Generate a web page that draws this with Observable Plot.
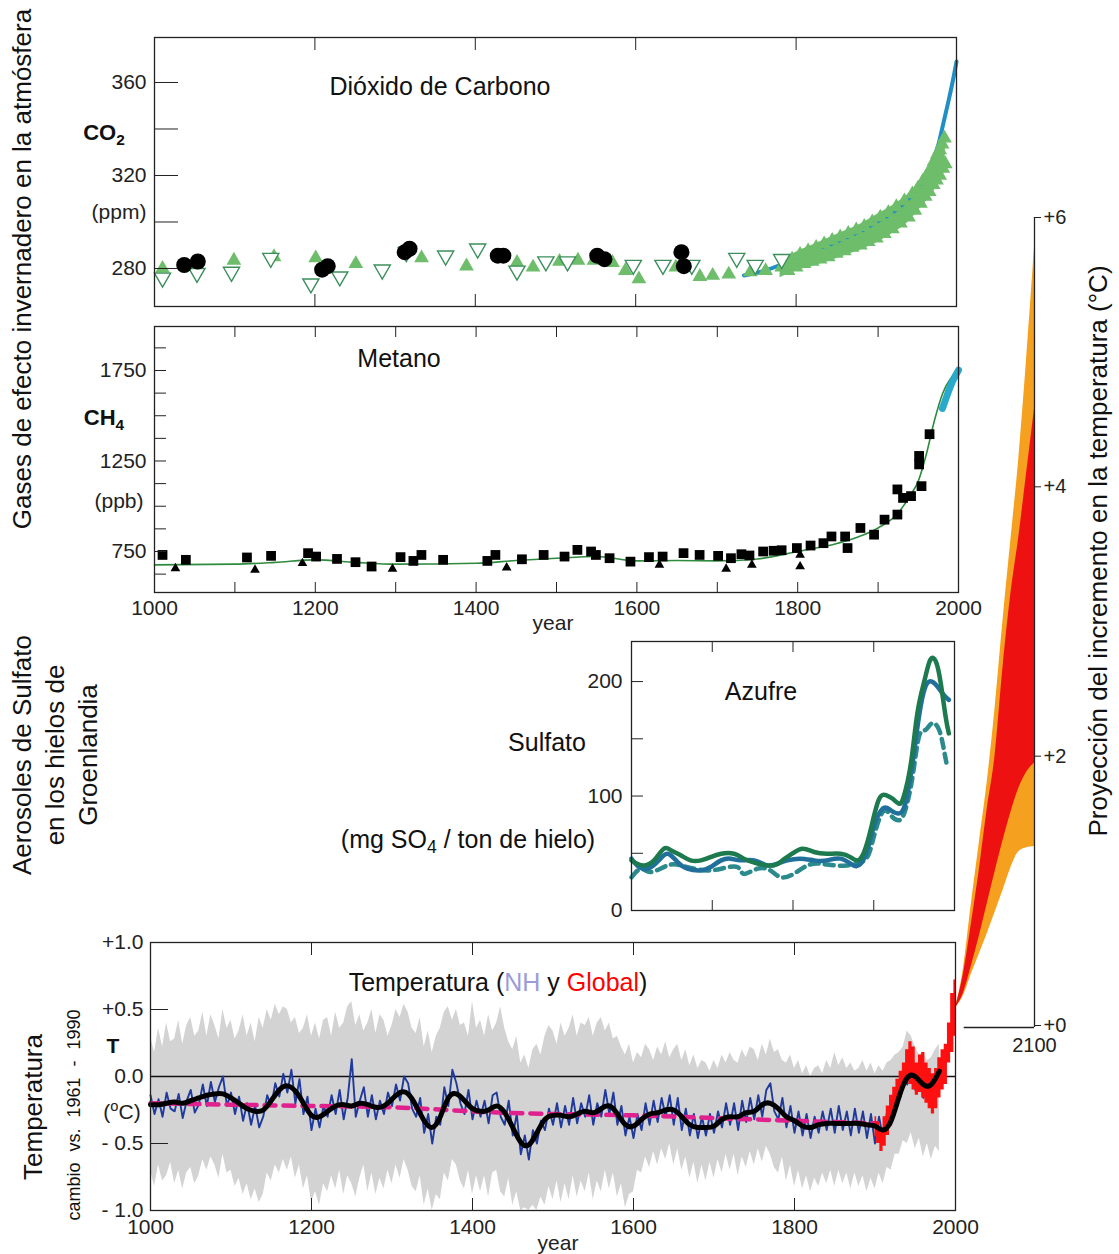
<!DOCTYPE html>
<html><head><meta charset="utf-8">
<script src="https://cdn.jsdelivr.net/npm/d3@7"></script>
<script src="https://cdn.jsdelivr.net/npm/@observablehq/plot@0.6"></script>
<style>
html,body{margin:0;padding:0;background:#fff;overflow:hidden}
#c{position:relative;width:1119px;height:1254px;font-family:"Liberation Sans",Arial,Helvetica,sans-serif;color:#111}
#c svg{position:absolute;left:0;top:0;background:transparent;overflow:visible}
.t{position:absolute;white-space:nowrap;transform:translate(-50%,-50%);font-size:25px;line-height:1.1}
.r{transform:translate(-50%,-50%) rotate(-90deg)}
sub,sup{font-size:0.7em;line-height:0;position:relative;vertical-align:baseline}
sub{top:0.3em} sup{top:-0.55em}
</style></head><body><div id="c"></div>
<script>
// ---------- CO2 (ppm) ----------
const co2BlueYears=[1735,1760,1780,1800,1820,1840,1860,1880,1900,1920,1940,1955,1965,1972,1978,1982,1986,1990,1995,2000];
const co2BlueVals =[277,279,281.5,285,288,290,293,296,300,304,310,316,322,328,334,340,346,352,360,369];
const co2GreenYears=[1010,1050,1099,1149,1201,1251,1333,1389,1452,1472,1505,1528,1548,1571,1587,1604,1650,1680,1696,1716,1743,1762,1782];
const co2GreenVals=[280,281,283.5,285,284.5,282,284.5,281,282.5,280.5,283,283.5,283.5,282.5,279,275.5,280.5,276.5,277,277.5,278.5,279,280.5];
const co2BandYears=[1780,1800,1820,1840,1860,1880,1900,1920,1940,1955,1965,1975,1980,1986];
const co2BandHi=[283,287,290,293,296,299,303,307,312,318,323,330,334,338];
const co2BandLo=[276,279,281,283,285.5,288,291,295,300,306,310,315,318,322];
const co2BandTopYears=[1785,1795,1805,1815,1825,1835,1845,1855,1865,1875,1885,1895,1905,1915,1925,1935,1945,1952,1958,1963,1968,1972,1976,1979,1982,1985];
const co2BandTopVals =[282,284,286,287.5,289,290.5,292,293.5,295,296.5,298,300,302,304,306.5,309,312,314.5,317.5,320,323,326,329,331,333.5,336];
const co2BandBotYears=[1790,1800,1810,1820,1830,1840,1850,1860,1870,1880,1890,1900,1910,1920,1930,1940,1948,1955,1961,1966,1971,1975,1979,1983,1986];
const co2BandBotVals =[279,280.5,282,283,284,285,286.5,287.5,289,290,291.5,293,295,297,299.5,302,305,308,311,313,316,318,320,323,325];
const co2OpenYears=[1010,1053,1096,1145,1195,1231,1284,1314,1363,1403,1452,1488,1515,1597,1634,1670,1726,1749,1782];
const co2OpenVals =[276,278,278.5,284.5,273.5,276.5,279.5,287,285.5,288.5,279,283,283,281.5,281.5,281.5,284.5,281.5,284];
const co2BlackYears=[1037,1054,1209,1216,1312,1318,1428,1435,1552,1561,1657,1660];
const co2BlackVals =[281.5,283,279.5,281,287,288.5,285.5,285.5,285.5,284,287,281];
const co2Ticks=[280,300,320,340,360], co2Labels=[280,320,360];

// ---------- CH4 (ppb) ----------
const ch4SqYears=[1010,1039,1115,1145,1191,1201,1227,1250,1270,1306,1322,1332,1359,1414,1424,1457,1484,1510,1526,1543,1549,1566,1592,1615,1632,1658,1678,1701,1717,1730,1740,1757,1770,1780,1799,1816,1832,1842,1859,1862,1878,1895,1908,1924,1924,1931,1941,1951,1951,1954,1964];
const ch4SqVals =[731,704,717,726,741,722,709,691,667,719,698,731,704,698,731,707,731,722,759,750,731,713,694,719,722,741,731,726,713,735,728,750,754,757,769,783,796,833,833,769,880,843,926,954,1093,1046,1056,1231,1278,1111,1398];
const ch4TriYears=[1026,1125,1184,1270,1296,1438,1628,1711,1743,1803,1803];
const ch4TriVals =[657,648,685,661,654,661,676,654,676,731,667];
const ch4LineYears=[1000,1100,1150,1200,1250,1300,1400,1450,1500,1550,1600,1650,1700,1750,1800,1850,1875,1900,1925,1940,1950,1960,1970,1980,1990,2000];
const ch4LineVals =[676,680,690,704,690,680,685,700,713,722,698,700,698,709,750,796,830,880,963,1060,1139,1287,1472,1620,1704,1745];
const ch4CyanYears=[1980,1984,1988,1992,1996,2000];
const ch4CyanVals =[1540,1590,1640,1685,1720,1752];

// ---------- Sulfate (mg SO4 / ton) ----------
const sGreenYears=[1600,1607,1616,1628,1640,1649,1661,1673,1686,1698,1711,1727,1739,1756,1776,1787,1799,1812,1826,1842,1859,1871,1880,1888,1896,1906,1915,1923,1931,1937,1946,1954,1963,1970,1977,1983,1989,1993];
const sGreenVals =[43.8,40.9,39.4,43.8,54,52.6,48.2,43.8,43.8,46.7,49.6,49.6,45.3,40.9,39.4,43.8,49.6,54,51.1,49.6,49.6,46.7,43.8,51.1,70,96.4,100.7,97.8,93.4,99.3,128.5,172.3,201.5,219,217.5,198.5,169.3,154.7];
const sBlueYears=[1600,1607,1620,1634,1645,1657,1669,1686,1698,1711,1723,1735,1752,1768,1781,1793,1809,1826,1842,1859,1875,1884,1892,1900,1911,1921,1931,1939,1948,1956,1964,1972,1979,1987,1993];
const sBlueVals =[45.3,39.4,36.5,43.8,49.6,42.3,36.5,35,38,43.8,45.3,43.8,43.8,39.4,40.9,43.8,45.3,43.8,43.8,45.3,39.4,40.9,52.6,73,89,87.6,84.7,93.4,128.5,169.3,195.6,200,195.6,188,184];
const sDashYears=[1600,1612,1624,1645,1661,1678,1694,1711,1731,1739,1756,1772,1785,1801,1818,1834,1851,1867,1880,1892,1900,1911,1921,1931,1939,1948,1956,1964,1972,1981,1987,1991];
const sDashVals =[29,36.5,33.6,39.4,39.4,36.5,35,36.5,38,32,36.5,35,29,32,39.4,40.9,39.4,39.4,40.9,46.7,64.2,86,83.2,78.8,87.6,116.8,151.8,157.7,163.5,157.7,140,125.5];

// ---------- Temperature (°C vs 1961-1990) ----------
const tYears=d3.range(1000,1981,5);
const tNH=[
-0.14,-0.28,-0.17,-0.30,-0.12,-0.24,-0.26,-0.13,-0.31,-0.18,-0.10,-0.27,-0.21,-0.06,-0.22,-0.04,-0.19,-0.08,0.0,-0.22,
-0.12,-0.28,-0.15,-0.33,-0.20,-0.36,-0.22,-0.38,-0.30,-0.14,-0.22,-0.05,-0.15,0.02,-0.12,0.05,-0.20,-0.02,-0.28,-0.15,
-0.40,-0.24,-0.38,-0.22,-0.30,-0.14,-0.28,-0.10,-0.32,-0.16,0.13,-0.30,-0.18,-0.08,-0.30,-0.14,-0.32,-0.18,-0.28,-0.12,
-0.22,-0.06,-0.18,0.0,-0.05,-0.24,-0.30,-0.16,-0.42,-0.28,-0.50,-0.30,-0.36,-0.08,-0.22,0.05,-0.05,-0.20,-0.28,-0.10,
-0.32,-0.18,-0.30,-0.18,-0.35,-0.14,-0.12,-0.30,-0.36,-0.18,-0.44,-0.28,-0.58,-0.44,-0.62,-0.40,-0.50,-0.33,-0.40,-0.24,
-0.36,-0.20,-0.38,-0.22,-0.36,-0.16,-0.35,-0.20,-0.30,-0.14,-0.36,-0.20,-0.30,-0.10,-0.28,-0.12,-0.36,-0.22,-0.44,-0.30,
-0.46,-0.28,-0.40,-0.20,-0.36,-0.18,-0.34,-0.16,-0.30,-0.14,-0.36,-0.16,-0.40,-0.24,-0.44,-0.28,-0.46,-0.30,-0.44,-0.28,
-0.42,-0.26,-0.38,-0.20,-0.36,-0.20,-0.40,-0.18,-0.34,-0.16,-0.32,-0.14,-0.30,-0.10,-0.05,-0.26,-0.32,-0.16,-0.38,-0.22,
-0.42,-0.26,-0.44,-0.28,-0.46,-0.30,-0.42,-0.26,-0.40,-0.24,-0.42,-0.22,-0.40,-0.26,-0.44,-0.24,-0.42,-0.26,-0.46,-0.28,
-0.50,-0.30,-0.46,-0.26,-0.36,-0.16,-0.18,-0.02,-0.06,0.10,-0.10,0.06,-0.16,0.0,-0.20,-0.02,0.05];
const tHi=[
0.30,0.18,0.36,0.22,0.40,0.26,0.28,0.42,0.24,0.38,0.44,0.30,0.34,0.48,0.30,0.46,0.38,0.28,0.50,0.36,
0.42,0.28,0.34,0.46,0.30,0.40,0.26,0.44,0.36,0.50,0.42,0.54,0.46,0.52,0.50,0.40,0.44,0.32,0.36,0.46,
0.30,0.40,0.28,0.42,0.44,0.30,0.48,0.36,0.40,0.52,0.56,0.38,0.46,0.34,0.40,0.50,0.32,0.46,0.42,0.30,
0.38,0.50,0.44,0.54,0.48,0.36,0.32,0.44,0.22,0.34,0.18,0.30,0.36,0.48,0.52,0.42,0.50,0.38,0.40,0.30,
0.56,0.36,0.42,0.30,0.46,0.34,0.40,0.52,0.36,0.26,0.20,0.30,0.10,0.16,0.06,0.20,0.24,0.16,0.30,0.38,
0.34,0.24,0.40,0.30,0.36,0.46,0.30,0.40,0.38,0.44,0.30,0.40,0.44,0.34,0.40,0.28,0.30,0.22,0.16,0.24,
0.10,0.18,0.14,0.24,0.20,0.12,0.22,0.16,0.26,0.14,0.20,0.24,0.12,0.20,0.08,0.16,0.06,0.12,0.10,0.04,
0.12,0.06,0.16,0.10,0.18,0.12,0.10,0.20,0.14,0.22,0.20,0.12,0.24,0.16,0.28,0.18,0.20,0.12,0.10,0.16,
0.06,0.12,0.02,0.08,0.00,0.06,0.08,0.02,0.12,0.06,0.18,0.08,0.14,0.06,0.10,0.04,0.06,0.12,0.04,0.10,
0.02,0.08,0.04,0.10,0.12,0.16,0.18,0.22,0.34,0.30,0.22,0.16,0.18,0.12,0.14,0.20,0.24];
const tLo=[
-0.70,-0.82,-0.66,-0.78,-0.74,-0.64,-0.80,-0.70,-0.84,-0.72,-0.68,-0.80,-0.74,-0.62,-0.70,-0.60,-0.66,-0.76,-0.58,-0.72,
-0.70,-0.82,-0.76,-0.88,-0.80,-0.92,-0.84,-0.94,-0.88,-0.72,-0.78,-0.66,-0.72,-0.62,-0.70,-0.60,-0.76,-0.66,-0.84,-0.74,
-0.94,-0.86,-0.96,-0.80,-0.86,-0.74,-0.84,-0.70,-0.88,-0.74,-0.80,-0.90,-0.76,-0.66,-0.86,-0.72,-0.88,-0.76,-0.84,-0.70,
-0.80,-0.66,-0.76,-0.62,-0.70,-0.82,-0.86,-0.74,-0.96,-0.84,-1.0,-0.88,-0.92,-0.72,-0.78,-0.62,-0.66,-0.78,-0.84,-0.70,
-0.88,-0.74,-0.86,-0.74,-0.90,-0.72,-0.70,-0.86,-0.90,-0.76,-0.96,-0.86,-1.0,-0.98,-1.0,-0.96,-1.0,-0.90,-0.96,-0.82,
-0.92,-0.78,-0.94,-0.80,-0.92,-0.74,-0.90,-0.78,-0.86,-0.72,-0.92,-0.78,-0.86,-0.70,-0.84,-0.72,-0.90,-0.80,-0.98,-0.88,
-0.86,-0.70,-0.72,-0.60,-0.68,-0.56,-0.66,-0.54,-0.62,-0.50,-0.66,-0.54,-0.70,-0.60,-0.76,-0.64,-0.80,-0.66,-0.78,-0.64,
-0.76,-0.62,-0.72,-0.58,-0.70,-0.58,-0.74,-0.60,-0.68,-0.56,-0.66,-0.54,-0.64,-0.52,-0.58,-0.68,-0.72,-0.60,-0.78,-0.66,
-0.82,-0.70,-0.84,-0.74,-0.86,-0.76,-0.82,-0.72,-0.80,-0.70,-0.82,-0.70,-0.80,-0.72,-0.84,-0.72,-0.82,-0.74,-0.86,-0.76,
-0.84,-0.72,-0.80,-0.68,-0.70,-0.58,-0.58,-0.48,-0.50,-0.42,-0.54,-0.46,-0.60,-0.50,-0.62,-0.52,-0.56];
const tSmoothYears=d3.range(1000,1981,10);
const tSmooth=[
-0.21,-0.21,-0.20,-0.19,-0.20,-0.18,-0.16,-0.14,-0.13,-0.13,
-0.16,-0.20,-0.24,-0.26,-0.25,-0.18,-0.10,-0.07,-0.11,-0.20,
-0.29,-0.30,-0.26,-0.22,-0.21,-0.22,-0.20,-0.21,-0.23,-0.22,
-0.17,-0.12,-0.13,-0.22,-0.33,-0.38,-0.30,-0.16,-0.13,-0.18,
-0.24,-0.26,-0.25,-0.22,-0.27,-0.38,-0.49,-0.51,-0.42,-0.32,
-0.29,-0.29,-0.30,-0.28,-0.26,-0.27,-0.24,-0.22,-0.28,-0.36,
-0.37,-0.32,-0.28,-0.27,-0.25,-0.25,-0.30,-0.36,-0.38,-0.38,
-0.37,-0.32,-0.30,-0.30,-0.27,-0.26,-0.21,-0.20,-0.24,-0.30,
-0.33,-0.37,-0.38,-0.36,-0.35,-0.35,-0.35,-0.35,-0.35,-0.36,
-0.37,-0.40,-0.33,-0.15,-0.01,0.0,-0.06,-0.06,0.04];
const tTrendYears=[1000,1100,1200,1300,1400,1500,1600,1700,1800,1903];
const tTrendVals =[-0.20,-0.21,-0.22,-0.23,-0.26,-0.28,-0.29,-0.31,-0.33,-0.35];
const tGlobYears=[1900,1904,1908,1912,1916,1920,1924,1928,1932,1936,1940,1944,1948,1952,1956,1960,1964,1968,1972,1976,1980,1984,1988,1992,1996,2000];
const tGlobHi=[-0.30,-0.34,-0.40,-0.30,-0.22,-0.14,-0.08,-0.02,0.04,0.10,0.20,0.26,0.22,0.10,0.16,0.18,0.10,0.06,0.02,0.06,0.14,0.20,0.24,0.40,0.62,0.72];
const tGlobLo=[-0.45,-0.50,-0.56,-0.52,-0.44,-0.36,-0.30,-0.22,-0.16,-0.08,0.0,-0.06,-0.10,-0.14,-0.12,-0.16,-0.20,-0.24,-0.28,-0.24,-0.16,-0.10,-0.06,0.10,0.18,0.30];
const tTicks=[-1,-0.5,0,0.5,1], tTickLabels=["- 1.0","- 0.5","0.0","+0.5","+1.0"];

// ---------- Projection to 2100 (°C) ----------
const pYears=[2000,2010,2020,2030,2040,2050,2060,2070,2080,2090,2100];
const pOrangeHi=[0.13,0.42,0.90,1.35,1.80,2.35,3.00,3.60,4.20,4.95,5.78];
const pRedHi   =[0.13,0.38,0.75,1.15,1.60,2.00,2.65,3.20,3.62,4.10,4.58];
const pRedLo   =[0.13,0.24,0.44,0.66,0.90,1.14,1.37,1.58,1.76,1.88,1.95];
const pOrangeLo=[0.13,0.22,0.38,0.53,0.68,0.84,1.00,1.17,1.29,1.32,1.33];

// ---------- drawing ----------
const C=document.getElementById("c");
const W=1119,H=1254;
function add({l,r,t,b,...rest}){
  const svg=Plot.plot({width:W,height:H,marginLeft:l,marginRight:W-r,marginTop:t,marginBottom:H-b,
    style:{fontFamily:'"Liberation Sans", Arial, Helvetica, sans-serif',fontSize:"21px",color:"#222",background:"transparent"},
    ...rest});
  C.appendChild(svg);
}
const pts=(xs,ys)=>xs.map((x,i)=>({x,y:ys[i]}));
const noLab=()=>"";
const str=d=>String(d);
const triDown={draw(ctx,size){const s=Math.sqrt(4*size/Math.sqrt(3)),h=s*Math.sqrt(3)/2;ctx.moveTo(-s/2,-h/3);ctx.lineTo(s/2,-h/3);ctx.lineTo(0,2*h/3);ctx.closePath();}};
const frame=()=>Plot.frame({stroke:"#222",strokeWidth:1.3});
const GREEN="#6dbd6b";

// CO2 panel
add({l:154,r:956,t:37,b:306,
  x:{domain:[1000,2000],axis:null}, y:{domain:[263.65,379.35],axis:null},
  marks:[
    Plot.areaY(co2BandYears.map((x,i)=>({x,lo:co2BandLo[i],hi:co2BandHi[i]})),{x:"x",y1:"lo",y2:"hi",fill:GREEN,curve:"monotone-x"}),
    Plot.dot(pts(co2BandBotYears,co2BandBotVals),{x:"x",y:"y",symbol:"triangle",r:5.5,fill:GREEN}),
    Plot.line(pts(co2BlueYears,co2BlueVals),{x:"x",y:"y",stroke:"#1f8fc4",strokeWidth:4,curve:"monotone-x"}),
    Plot.dot(pts(co2BandTopYears,co2BandTopVals),{x:"x",y:"y",symbol:"triangle",r:5.5,fill:GREEN}),
    Plot.dot(pts(co2GreenYears,co2GreenVals),{x:"x",y:"y",symbol:"triangle",r:5.5,fill:GREEN}),
    Plot.dot(pts(co2OpenYears,co2OpenVals),{x:"x",y:"y",symbol:triDown,r:6,fill:"white",stroke:"#3c8f5c",strokeWidth:1.4}),
    Plot.dot(pts(co2BlackYears,co2BlackVals),{x:"x",y:"y",r:8,fill:"black"}),
    frame(),
    Plot.axisY(co2Ticks,{tickSize:-24,tickFormat:noLab,label:null}),
    Plot.axisY(co2Labels,{tickSize:0,tickPadding:8,tickFormat:str,label:null}),
    Plot.axisX([1200,1400,1600,1800],{anchor:"top",tickSize:-12,tickFormat:noLab,label:null}),
    Plot.axisX([1200,1400,1600,1800],{anchor:"bottom",tickSize:-12,tickFormat:noLab,label:null})
  ]});

// CH4 panel
add({l:154,r:958,t:326,b:592,
  x:{domain:[1000,2000],axis:null}, y:{domain:[523.5,1993],axis:null},
  marks:[
    Plot.line(pts(ch4LineYears,ch4LineVals),{x:"x",y:"y",stroke:"#2e8b3e",strokeWidth:1.6,curve:"monotone-x"}),
    Plot.dot(pts(ch4SqYears,ch4SqVals),{x:"x",y:"y",symbol:"square",r:5.5,fill:"black"}),
    Plot.dot(pts(ch4TriYears,ch4TriVals),{x:"x",y:"y",symbol:"triangle",r:3.6,fill:"black"}),
    Plot.line(pts(ch4CyanYears,ch4CyanVals),{x:"x",y:"y",stroke:"#29a9cb",strokeWidth:7,strokeLinecap:"round"}),
    frame(),
    Plot.axisY(d3.range(625,1876,125),{tickSize:-12,tickFormat:noLab,label:null}),
    Plot.axisY([750,1250,1750],{tickSize:0,tickPadding:8,tickFormat:str,label:null}),
    Plot.axisX(d3.range(1100,1901,100),{anchor:"top",tickSize:-10,tickFormat:noLab,label:null}),
    Plot.axisX(d3.range(1100,1901,100),{anchor:"bottom",tickSize:-10,tickFormat:noLab,label:null}),
    Plot.axisX(d3.range(1000,2001,200),{anchor:"bottom",tickSize:0,tickPadding:8,tickFormat:str,label:null})
  ]});

// Projection panel
add({l:955,r:1034,t:217,b:1025,
  x:{domain:[2000,2100],axis:null}, y:{domain:[0,6],axis:null},
  marks:[
    Plot.areaY(pYears.map((x,i)=>({x,lo:pOrangeLo[i],hi:pOrangeHi[i]})),{x:"x",y1:"lo",y2:"hi",fill:"#f5a01e",curve:"monotone-x"}),
    Plot.areaY(pYears.map((x,i)=>({x,lo:pRedLo[i],hi:pRedHi[i]})),{x:"x",y1:"lo",y2:"hi",fill:"#ee1111",curve:"monotone-x"}),
    Plot.ruleX([2100],{y1:-0.015,y2:6,stroke:"#222",strokeWidth:1.3}),
    Plot.ruleY([-0.015],{x1:2011,x2:2100,stroke:"#222",strokeWidth:1.3}),
    Plot.axisY([0,2,4,6],{anchor:"right",tickSize:6,tickPadding:3,tickFormat:d=>"+"+d,fontSize:20,label:null}),
    Plot.axisX([2100],{anchor:"bottom",tickSize:0,tickPadding:12,tickFormat:str,fontSize:20,label:null})
  ]});

// Sulfate panel
add({l:631,r:954,t:641,b:910,
  x:{domain:[1600,2000],axis:null}, y:{domain:[0,235],axis:null},
  marks:[
    Plot.line(pts(sDashYears,sDashVals),{x:"x",y:"y",stroke:"#2b8a8c",strokeWidth:4.5,strokeDasharray:"9,6",curve:"natural"}),
    Plot.line(pts(sBlueYears,sBlueVals),{x:"x",y:"y",stroke:"#21709c",strokeWidth:4.5,curve:"natural"}),
    Plot.line(pts(sGreenYears,sGreenVals),{x:"x",y:"y",stroke:"#1d7a4e",strokeWidth:4.5,curve:"natural"}),
    frame(),
    Plot.axisY([50,100,150,200],{tickSize:-12,tickFormat:noLab,label:null}),
    Plot.axisY([0,100,200],{tickSize:0,tickPadding:9,tickFormat:str,label:null}),
    Plot.axisX([1700,1800,1900],{anchor:"top",tickSize:-10,tickFormat:noLab,label:null}),
    Plot.axisX([1700,1800,1900],{anchor:"bottom",tickSize:-10,tickFormat:noLab,label:null})
  ]});

// Temperature panel
add({l:150,r:955,t:942,b:1210,
  x:{domain:[1000,2000],axis:null}, y:{domain:[-1,1],axis:null},
  marks:[
    Plot.areaY(tYears.map((x,i)=>({x,lo:tLo[i],hi:tHi[i]})),{x:"x",y1:"lo",y2:"hi",fill:"#d3d3d3"}),
    Plot.ruleY([0],{stroke:"#111",strokeWidth:1.3}),
    Plot.line(pts(tYears,tNH),{x:"x",y:"y",stroke:"#1f3a9c",strokeWidth:1.9}),
    Plot.line(pts(tTrendYears,tTrendVals),{x:"x",y:"y",stroke:"#e0208c",strokeWidth:4.5,strokeDasharray:"11,8",curve:"natural"}),
    Plot.areaY(tGlobYears.map((x,i)=>({x,lo:tGlobLo[i],hi:tGlobHi[i]})),{x:"x",y1:"lo",y2:"hi",fill:"#ff1010",curve:"step"}),
    Plot.line(pts(tSmoothYears,tSmooth),{x:"x",y:"y",stroke:"black",strokeWidth:5,curve:"natural"}),
    frame(),
    Plot.axisY([-0.5,0.5],{tickSize:-18,tickFormat:noLab,label:null}),
    Plot.axisY(tTicks,{tickSize:0,tickPadding:7,tickFormat:d=>tTickLabels[tTicks.indexOf(d)],label:null}),
    Plot.axisX([1200,1400,1600,1800],{anchor:"top",tickSize:-12,tickFormat:noLab,label:null}),
    Plot.axisX([1200,1400,1600,1800],{anchor:"bottom",tickSize:-12,tickFormat:noLab,label:null}),
    Plot.axisX(d3.range(1000,2001,200),{anchor:"bottom",tickSize:0,tickPadding:9,tickFormat:str,label:null})
  ]});

// ---------- text ----------
const texts=`
<div class="t r" style="left:22px;top:269px;font-size:26px">Gases de efecto invernadero en la atmósfera</div>
<div class="t" style="left:104px;top:133px;font-size:22px;font-weight:bold">CO<sub>2</sub></div>
<div class="t" style="left:119px;top:212px;font-size:21px;color:#222">(ppm)</div>
<div class="t" style="left:104px;top:418px;font-size:22px;font-weight:bold">CH<sub>4</sub></div>
<div class="t" style="left:119px;top:501px;font-size:21px;color:#222">(ppb)</div>
<div class="t" style="left:440px;top:87px">Dióxido de Carbono</div>
<div class="t" style="left:399px;top:359px">Metano</div>
<div class="t" style="left:553px;top:623px;font-size:21px;color:#222">year</div>
<div class="t r" style="left:55px;top:755px;text-align:center;line-height:33px;font-size:26px">Aerosoles de Sulfato<br>en los hielos de<br>Groenlandia</div>
<div class="t" style="left:547px;top:743px">Sulfato</div>
<div class="t" style="left:468px;top:840px">(mg SO<sub>4</sub> / ton de hielo)</div>
<div class="t" style="left:761px;top:692px">Azufre</div>
<div class="t" style="left:498px;top:983px">Temperatura (<span style="color:#9b9bd6">NH</span> y <span style="color:#ff0000">Global</span>)</div>
<div class="t r" style="left:33px;top:1107px;font-size:26px">Temperatura</div>
<div class="t r" style="left:75px;top:1115px;font-size:18px;word-spacing:6px">cambio vs. 1961 - 1990</div>
<div class="t" style="left:113px;top:1046px;font-size:21px;font-weight:bold">T</div>
<div class="t" style="left:122px;top:1112px;font-size:21px;color:#222">(<sup>o</sup>C)</div>
<div class="t" style="left:558px;top:1243px;font-size:21px;color:#222">year</div>
<div class="t r" style="left:1098px;top:551px;font-size:26px">Proyección del incremento en la temperatura (°C)</div>`;
C.insertAdjacentHTML("beforeend",texts);
</script></body></html>
